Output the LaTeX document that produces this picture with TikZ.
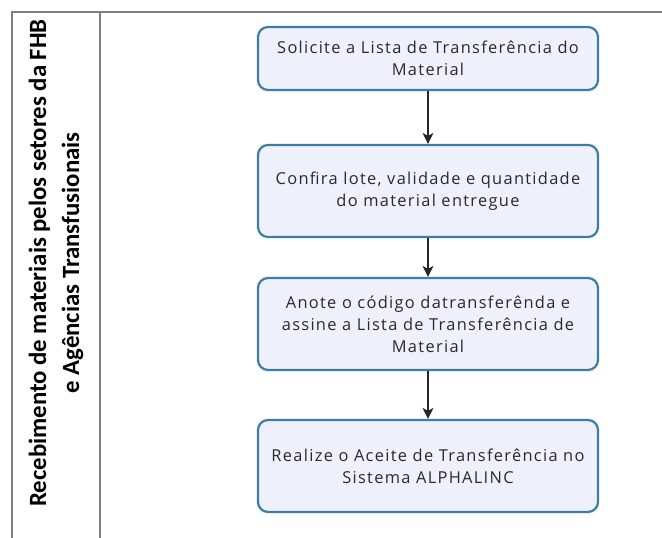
\documentclass[tikz,border=0pt]{standalone}
\usepackage{fontspec}
\setmainfont{Carlito}
\newfontfamily\boxfont[LetterSpace=8]{Open Sans}
\usetikzlibrary{arrows.meta}
\definecolor{boxfill}{HTML}{EEF0FB}
\definecolor{boxdraw}{HTML}{3F7EA3}
\definecolor{lanegray}{HTML}{7F7F7F}
\definecolor{boxtext}{HTML}{2A2A2A}
\begin{document}
\begin{tikzpicture}[x=1pt,y=-1pt,
  stepbox/.style={draw=boxdraw, line width=2.2pt, fill=boxfill, rounded corners=10pt,
    minimum width=340pt, align=center, inner sep=0pt,
    font=\boxfont\fontsize{16.4}{22}\selectfont, text=boxtext},
  flow/.style={-{Stealth[length=11pt,width=11pt,inset=3pt]}, line width=1.3pt, draw=black!85},
  laneline/.style={draw=lanegray, line width=2pt}]
\useasboundingbox (0,0) rectangle (662,538);
\fill[white] (0,0) rectangle (662,538);
\draw[laneline] (12,538) -- (12,12) -- (662,12);
\draw[laneline] (100,12) -- (100,538);
\node[rotate=90, align=center, font=\bfseries\fontsize{24.8}{33}\selectfont] (lane) at (56,263)
  {Recebimento de materiais pelos setores da FHB\\e Agências Transfusionais};
\node[stepbox, minimum height=63pt] (s1) at (428,58.5)
  {Solicite a Lista de Transferência do\\Material};
\node[stepbox, minimum height=92pt] (s2) at (428,191)
  {Confira lote, validade e quantidade\\do material entregue};
\node[stepbox, minimum height=92pt] (s3) at (428,324)
  {Anote o código datransferênda e\\assine a Lista de Transferência de\\Material};
\node[stepbox, minimum height=92pt] (s4) at (428,466)
  {Realize o Aceite de Transferência no\\Sistema ALPHALINC};
\draw[flow] (s1) -- (s2);
\draw[flow] (s2) -- (s3);
\draw[flow] (s3) -- (s4);
\end{tikzpicture}
\end{document}
